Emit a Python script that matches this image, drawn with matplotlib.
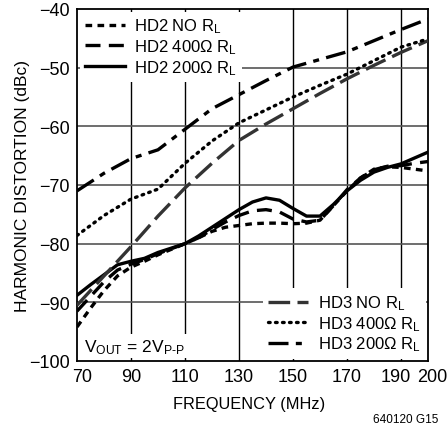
import matplotlib
matplotlib.use('Agg')
from matplotlib import pyplot as plt
from matplotlib.transforms import ScaledTranslation

plt.rcParams['font.family'] = ['Liberation Sans', 'DejaVu Sans']
plt.rcParams['mathtext.fontset'] = 'custom'
plt.rcParams['mathtext.rm'] = 'Liberation Sans'
plt.rcParams['mathtext.it'] = 'Liberation Sans'

# Data
f_hd3 = [70, 80, 90, 100, 110, 120, 130, 140, 150, 160, 170, 180, 190, 200]
hd3_200 = [-71.0, -68.0, -65.5, -64.0, -60.5, -57.0, -54.6, -52.2, -49.9,
           -48.6, -47.3, -45.4, -43.5, -41.7]
hd3_400 = [-78.6, -75.2, -72.4, -70.7, -66.3, -62.5, -59.4, -57.2, -55.0,
           -53.0, -51.1, -48.8, -46.5, -45.1]
hd3_norl = [-90.5, -85.5, -80.5, -75.3, -70.5, -66.3, -62.4, -59.6, -57.0,
            -54.4, -51.9, -49.6, -47.4, -45.4]

f_hd2 = [70, 75, 80, 85, 90, 95, 100, 110, 115, 120, 125, 130, 135, 140,
         145, 150, 155, 160, 165, 170, 175, 180, 185, 190, 195, 200]
hd2_200 = [-88.8, -87.0, -85.3, -83.6, -83.0, -82.5, -81.5, -80.0, -78.7,
           -77.2, -75.7, -74.2, -72.9, -72.2, -72.6, -74.0, -75.3, -75.3,
           -73.3, -71.0, -69.2, -67.8, -67.0, -66.4, -65.4, -64.4]
hd2_400 = [-91.5, -89.0, -86.5, -84.5, -83.5, -82.7, -81.7, -80.0, -79.0,
           -77.6, -76.3, -75.2, -74.4, -74.2, -74.6, -75.8, -76.3, -76.0,
           -73.5, -70.8, -68.8, -67.4, -66.8, -66.7, -66.3, -66.0]
hd2_norl = [-94.2, -91.0, -88.0, -85.5, -84.0, -83.0, -81.9, -80.0, -79.0,
            -77.9, -77.2, -76.9, -76.6, -76.5, -76.5, -76.6, -76.5, -76.0,
            -73.5, -71.0, -68.8, -67.3, -66.9, -67.0, -67.3, -67.6]

xticks = [70, 90, 110, 130, 150, 170, 190, 200]
yticks = [-100, -90, -80, -70, -60, -50, -40]

fig = plt.figure(figsize=(4.48, 4.27), dpi=100)
ax = fig.add_axes([77 / 448, 1 - 362 / 427, 351 / 448, 352 / 427])

# grid
for x in [90, 110, 130, 150, 170, 190]:
    ax.axvline(x, color='black', lw=1.0, zorder=1)
for y in [-90, -80, -70, -60, -50]:
    ax.axhline(y, color='#555555', lw=1.2, zorder=1)

lw = 2.4
l1, = ax.plot(f_hd2, hd2_norl, color='black', lw=lw, dashes=(2, 1.6),
              label='HD2 NO R$_\\mathrm{L}$', zorder=3)
l2, = ax.plot(f_hd2, hd2_400, color='black', lw=lw, dashes=(4.5, 2.5),
              label='HD2 400Ω R$_\\mathrm{L}$', zorder=3)
l3, = ax.plot(f_hd2, hd2_200, color='black', lw=lw, ls='-',
              label='HD2 200Ω R$_\\mathrm{L}$', zorder=3)
l4, = ax.plot(f_hd3, hd3_norl, color='#333333', lw=lw, dashes=(6.5, 2.2),
              label='HD3 NO R$_\\mathrm{L}$', zorder=3)
l5, = ax.plot(f_hd3, hd3_400, color='black', lw=lw, dashes=(0.5, 1.6),
              dash_capstyle='round', label='HD3 400Ω R$_\\mathrm{L}$', zorder=3)
l6, = ax.plot(f_hd3, hd3_200, color='black', lw=lw, dashes=(6, 2.2, 1.8, 2.2),
              label='HD3 200Ω R$_\\mathrm{L}$', zorder=3)

ax.set_xlim(70, 200)
ax.set_ylim(-100, -40)
ax.set_xticks(xticks)
ax.set_yticks(yticks)
ax.set_yticklabels(['\u2212' + str(-v) for v in yticks])
ax.tick_params(length=0, labelsize=13, pad=5)
xl = ax.get_xticklabels()
xl[0].set_transform(xl[0].get_transform() + ScaledTranslation(0.05, 0, fig.dpi_scale_trans))
xl[-2].set_transform(xl[-2].get_transform() + ScaledTranslation(-0.05, 0, fig.dpi_scale_trans))
xl[-1].set_transform(xl[-1].get_transform() + ScaledTranslation(0.04, 0, fig.dpi_scale_trans))
for s in ax.spines.values():
    s.set_linewidth(1.3)

ax.set_xlabel('FREQUENCY (MHz)', fontsize=11.8)
ax.xaxis.set_label_coords(0.49, -0.1)
ax.set_ylabel('HARMONIC DISTORTION (dBc)', fontsize=12.5)
ax.yaxis.set_label_coords(-0.134, 0.5)

leg_kw = dict(fontsize=12, frameon=True, fancybox=False, edgecolor='none',
              facecolor='white', framealpha=1, borderaxespad=0.15,
              handlelength=2.4, labelspacing=0.12, handletextpad=0.6,
              borderpad=0.3)
leg1 = ax.legend(handles=[l1, l2, l3], loc='upper left', **leg_kw)
leg1.set_zorder(5)
ax.add_artist(leg1)
leg2 = ax.legend(handles=[l4, l5, l6], loc='lower right', **leg_kw)
leg2.set_zorder(5)

ax.text(0.02, 0.015, 'V$_\\mathrm{OUT}$ = 2V$_\\mathrm{P\u2010P}$',
        transform=ax.transAxes, fontsize=12.5, ha='left', va='bottom',
        zorder=6, bbox=dict(facecolor='white', edgecolor='none', pad=2))

fig.text(406 / 448, 1 - 420 / 427, '640120 G15', fontsize=8.5, ha='center',
         va='center')

fig.savefig('out.png', dpi=100)
